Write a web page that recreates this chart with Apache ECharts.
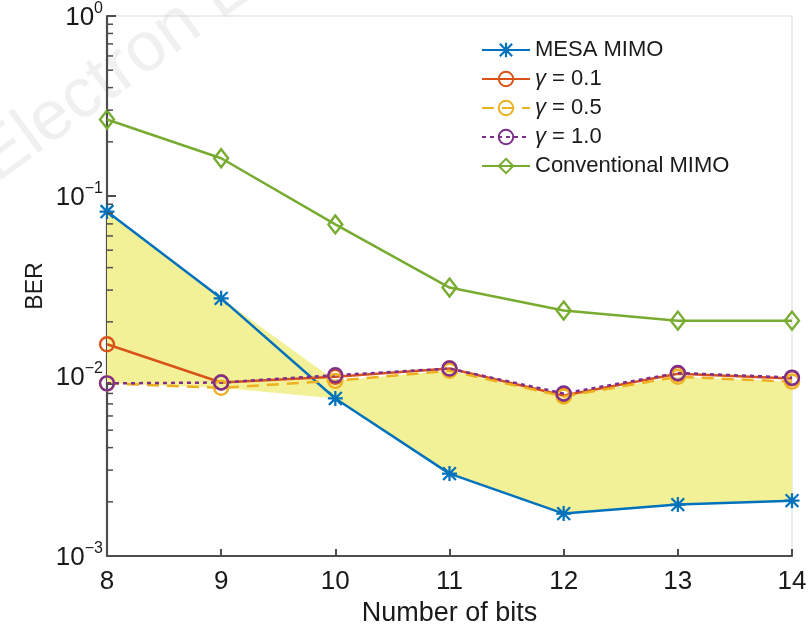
<!DOCTYPE html>
<html>
<head>
<meta charset="utf-8">
<script src="https://cdn.jsdelivr.net/npm/echarts@6/dist/echarts.min.js"></script>
<style>
  html, body { margin: 0; padding: 0; background: #fff; }
  #main_chart { width: 810px; height: 627px; }
</style>
</head>
<body>
<div id="main_chart"></div>
<script>
// data
var bits = [8, 9, 10, 11, 12, 13, 14];
var mesaMimo = [0.082, 0.027, 0.0075, 0.00287, 0.00172, 0.00193, 0.00203];
var gamma01 = [0.0150, 0.0092, 0.0099, 0.0110, 0.0078, 0.0103, 0.0097];
var gamma05 = [0.0091, 0.0086, 0.0094, 0.0107, 0.0077, 0.0099, 0.0093];
var gamma10 = [0.0091, 0.0092, 0.0101, 0.0110, 0.0080, 0.0104, 0.0098];
var convMimo = [0.266, 0.162, 0.0695, 0.031, 0.0231, 0.0203, 0.0203];
var minorTicks = [0.002, 0.003, 0.004, 0.005, 0.006, 0.007, 0.008, 0.009,
                  0.02, 0.03, 0.04, 0.05, 0.06, 0.07, 0.08, 0.09,
                  0.2, 0.3, 0.4, 0.5, 0.6, 0.7, 0.8, 0.9];

var axisColor = '#4d4d4d';
var textColor = '#1a1a1a';
var font = 'Liberation Sans, Arial, sans-serif';

// matlab style '*' marker
var starPath = 'path://M8.5 0H11.5V20H8.5Z M0 8.5H20V11.5H0Z M2.5 0.4L19.6 17.5L17.5 19.6L0.4 2.5Z M17.5 0.4L19.6 2.5L2.5 19.6L0.4 17.5Z';

var renderFill = function(params, api){
    if(params.dataIndex !== 0){
        return null;
    }
    var top = [], bot = [];
    for(var i = 0; i < bits.length; i++){
        var a = mesaMimo[i], b = gamma05[i];
        top.push(api.coord([bits[i], Math.max(a, b)]));
        bot.unshift(api.coord([bits[i], Math.min(a, b)]));
    }
    return {
        type: 'polygon',
        shape: {points: top.concat(bot)},
        style: {fill: '#f3f197', stroke: 'none'},
        silent: true
    };
};

var renderMinor = function(params, api){
    var p = api.coord([api.value(0), api.value(1)]);
    return {
        type: 'line',
        shape: {x1: p[0], y1: p[1], x2: p[0] + 6, y2: p[1]},
        style: {stroke: axisColor, lineWidth: 1.5}
    };
};

var lineSeries = function(name, data, color, symbol, size, dash){
    var hollow = symbol !== starPath;
    return {
        name: name,
        type: 'line',
        data: bits.map(function(b, i){ return [b, data[i]]; }),
        symbol: symbol,
        symbolSize: size,
        showAllSymbol: true,
        z: 3,
        itemStyle: hollow ? {color: 'rgba(255,255,255,0)', borderColor: color, borderWidth: 2.4} : {color: color},
        lineStyle: {color: color, width: 2.5, type: dash || 'solid'},
        emphasis: {disabled: true}
    };
};

var main_chart = echarts.init(document.getElementById('main_chart'));

var chartOpt = {
    animation: false,
    backgroundColor: '#fff',
    textStyle: {fontFamily: font},
    graphic: [{
        type: 'text',
        x: 6, y: 196,
        rotation: 0.63,
        z: -10,
        silent: true,
        style: {text: 'Electron Lett', font: '70px ' + font, fill: '#f0f0f0', textVerticalAlign: 'bottom'}
    }],
    grid: {
        left: 107, right: 18, top: 16, bottom: 71,
        show: true, borderColor: '#d9d9d9', borderWidth: 1,
        outerBoundsMode: 'none'
    },
    legend: {
        orient: 'vertical',
        left: 476, top: 34,
        itemWidth: 48, itemHeight: 18, itemGap: 7,
        data: ['MESA MIMO', 'γ = 0.1', 'γ = 0.5', 'γ = 1.0', 'Conventional MIMO'],
        formatter: function(name){
            return name.replace('γ', '{g|γ}');
        },
        textStyle: {
            fontSize: 22, color: textColor, fontFamily: font,
            rich: {g: {fontSize: 22, fontStyle: 'italic', color: textColor, fontFamily: font}}
        }
    },
    xAxis: {
        type: 'value',
        min: 8, max: 14, interval: 1,
        name: 'Number of bits',
        nameLocation: 'middle',
        nameGap: 36,
        nameTextStyle: {fontSize: 27, color: textColor},
        axisLine: {lineStyle: {color: axisColor, width: 2.2}},
        axisTick: {inside: true, length: 7, lineStyle: {color: axisColor, width: 2}},
        axisLabel: {fontSize: 26, color: textColor, margin: 13},
        splitLine: {show: false}
    },
    yAxis: {
        type: 'log',
        logBase: 10,
        min: 0.001, max: 1,
        name: 'BER',
        nameLocation: 'middle',
        nameGap: 60,
        nameMoveOverlap: false,
        nameTextStyle: {fontSize: 23, color: textColor},
        axisLine: {show: true, lineStyle: {color: axisColor, width: 2.2}},
        axisTick: {inside: true, length: 9, lineStyle: {color: axisColor, width: 2}},
        splitLine: {show: false},
        axisLabel: {
            margin: 4,
            formatter: function(v){
                var e = Math.round(Math.log(v) / Math.LN10);
                return '{b|10}{s|' + (e === 0 ? '0' : '\u2212' + (-e)) + '}';
            },
            rich: {
                b: {fontSize: 26, color: textColor, fontFamily: font, lineHeight: 30, verticalAlign: 'bottom'},
                s: {fontSize: 16, color: textColor, fontFamily: font, lineHeight: 30, verticalAlign: 'top', padding: [0, 0, 12, 0]}
            }
        }
    },
    series: [
        {
            type: 'custom',
            name: 'fill',
            renderItem: renderFill,
            data: bits.map(function(b, i){ return [b, mesaMimo[i], gamma05[i]]; }),
            encode: {x: 0, y: 1},
            z: 1,
            silent: true
        },
        {
            type: 'custom',
            name: 'minor',
            renderItem: renderMinor,
            data: minorTicks.map(function(v){ return [bits[0], v]; }),
            encode: {x: 0, y: 1},
            z: 5,
            silent: true
        },
        lineSeries('MESA MIMO', mesaMimo, '#0072BD', starPath, 15),
        lineSeries('γ = 0.1', gamma01, '#D95319', 'circle', 14),
        lineSeries('γ = 0.5', gamma05, '#EDB120', 'circle', 14, [12, 8]),
        lineSeries('γ = 1.0', gamma10, '#7E2F8E', 'circle', 14, [4, 4]),
        lineSeries('Conventional MIMO', convMimo, '#77AC30', 'diamond', [14, 18])
    ]
};

main_chart.setOption(chartOpt);
</script>
</body>
</html>
